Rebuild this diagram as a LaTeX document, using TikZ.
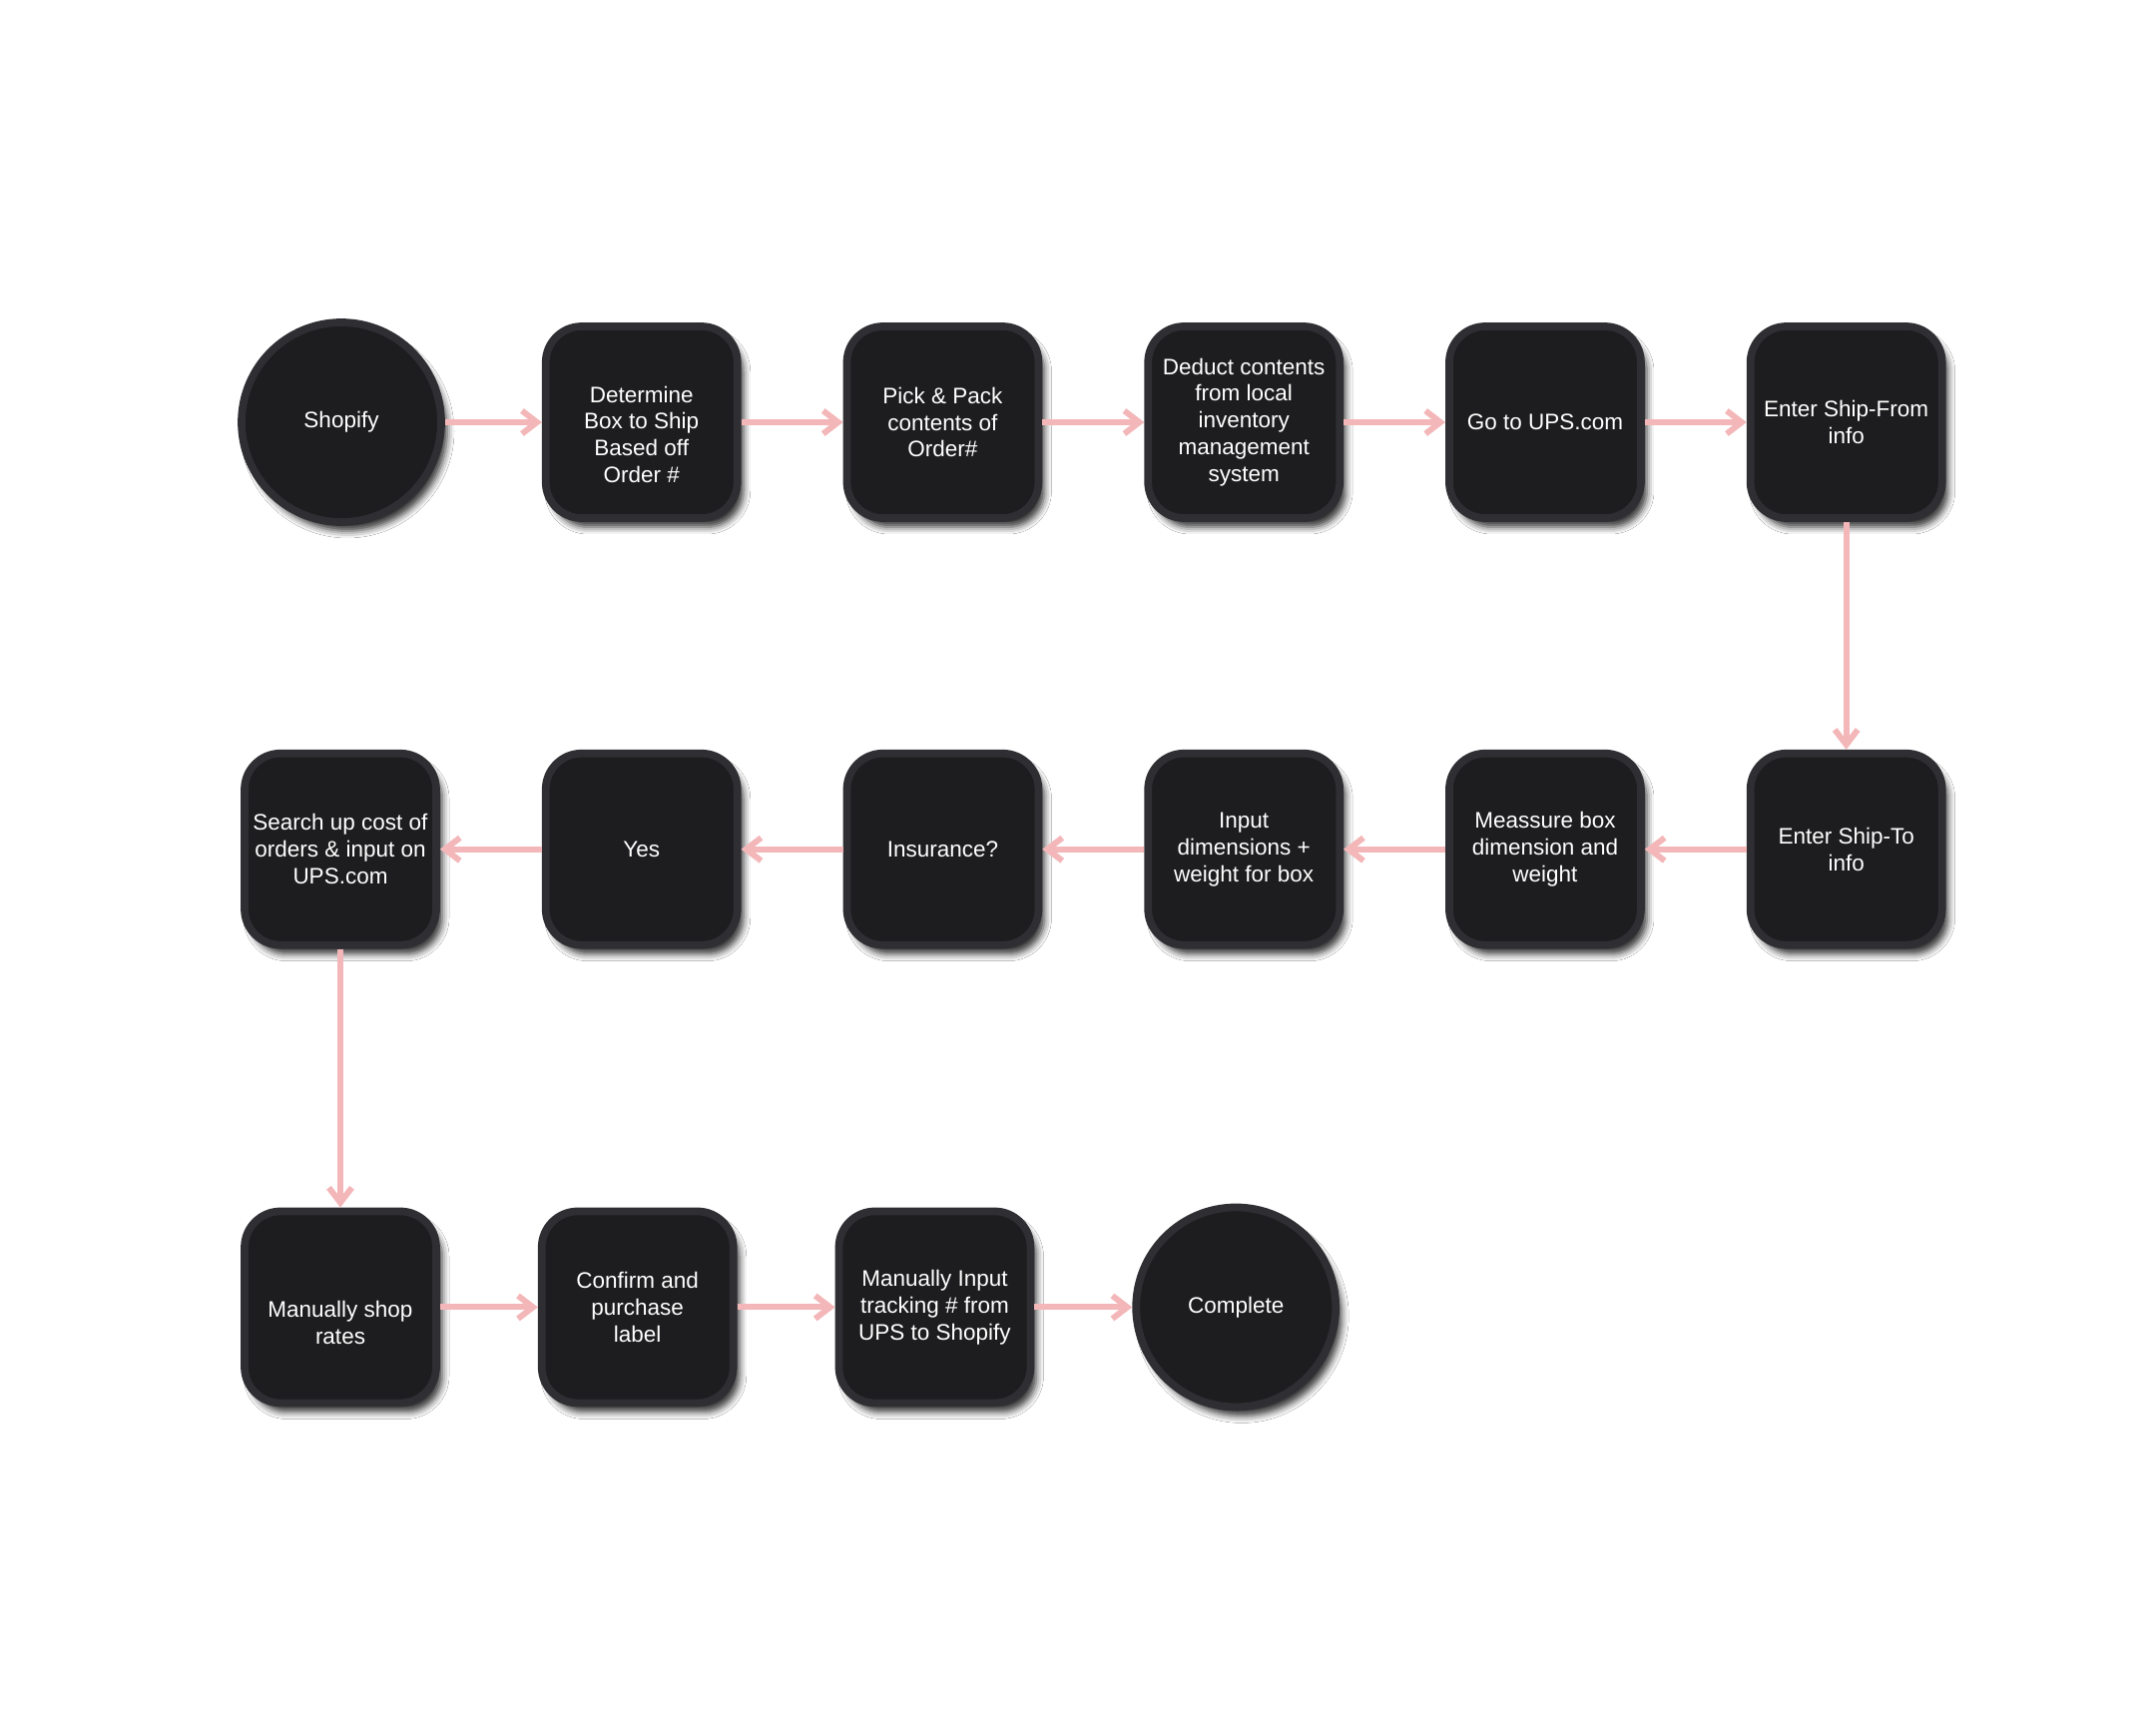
\documentclass[tikz,border=0pt]{standalone}
\usepackage{fontspec}
\setmainfont{Liberation Sans}
\usetikzlibrary{arrows.meta, positioning, shadows.blur}
\definecolor{boxfill}{HTML}{1D1D1F}
\definecolor{boxline}{HTML}{2F2E33}
\definecolor{flowpink}{HTML}{F4B7B9}

\begin{document}
\begin{tikzpicture}[
    >={Straight Barb[length=1.5mm, width=2.3mm]},
    procbox/.style={draw=boxline, line width=2.2pt, fill=boxfill,
                    rounded corners=0.36cm, minimum size=1.92cm,
                    align=center, text=white, inner sep=0pt,
                    font=\fontsize{6.4}{7.65}\selectfont,
                    blur shadow={shadow xshift=0.06cm, shadow yshift=-0.09cm,
                                 shadow blur radius=0.07cm, shadow opacity=80}},
    endpt/.style={procbox, circle, sharp corners, minimum size=2.0cm},
    flow/.style={->, draw=flowpink, line width=1.7pt},
    node distance=1.02cm
  ]
  \fill[white] (0,0) rectangle (21.6,17.28);
  \useasboundingbox (0,0) rectangle (21.6,17.28);

  % first row
  \node[endpt] (shopify) at (3.42,13.05) {Shopify};
  \node[procbox, right=0.97cm of shopify] (boxpick)
    {\raisebox{0pt}[\dimexpr\height+0.30cm]{\begin{tabular}{@{}c@{}}Determine\\Box to Ship\\Based off\\Order \#\end{tabular}}};
  \node[procbox, right=of boxpick] (pickpack) {Pick \& Pack\\contents of\\Order\#};
  \node[procbox, right=of pickpack] (deduct) {Deduct contents\\from local\\inventory\\management\\system};
  \node[procbox, right=of deduct] (gotoups) {Go to UPS.com};
  \node[procbox, right=of gotoups] (shipfrom) {Enter Ship-From\\info};

  % second row, right to left
  \node[procbox, below=2.28cm of shipfrom] (shipto) {Enter Ship-To\\info};
  \node[procbox, left=of shipto] (measure) {Meassure box\\dimension and\\weight};
  \node[procbox, left=of measure] (dims) {Input\\dimensions +\\weight for box};
  \node[procbox, left=of dims] (insure) {Insurance?};
  \node[procbox, left=of insure] (yes) {Yes};
  \node[procbox, left=of yes] (search) {Search up cost of\\orders \& input on\\UPS.com};

  % third row
  \node[procbox, below=2.59cm of search] (shoprates)
    {\raisebox{0pt}[\dimexpr\height+0.36cm]{\begin{tabular}{@{}c@{}}Manually shop\\rates\end{tabular}}};
  \node[procbox, right=0.98cm of shoprates] (confirm) {Confirm and\\purchase\\label};
  \node[procbox, right=0.98cm of confirm] (tracking) {Manually Input\\tracking \# from\\UPS to Shopify};
  \node[endpt, right=0.98cm of tracking] (complete) {Complete};

  % connectors
  \foreach \from/\to in {shopify/boxpick, boxpick/pickpack, pickpack/deduct,
      deduct/gotoups, gotoups/shipfrom, shipfrom/shipto, shipto/measure,
      measure/dims, dims/insure, insure/yes, yes/search, search/shoprates,
      shoprates/confirm, confirm/tracking, tracking/complete}
    \draw[flow] (\from) -- (\to);
\end{tikzpicture}
\end{document}
